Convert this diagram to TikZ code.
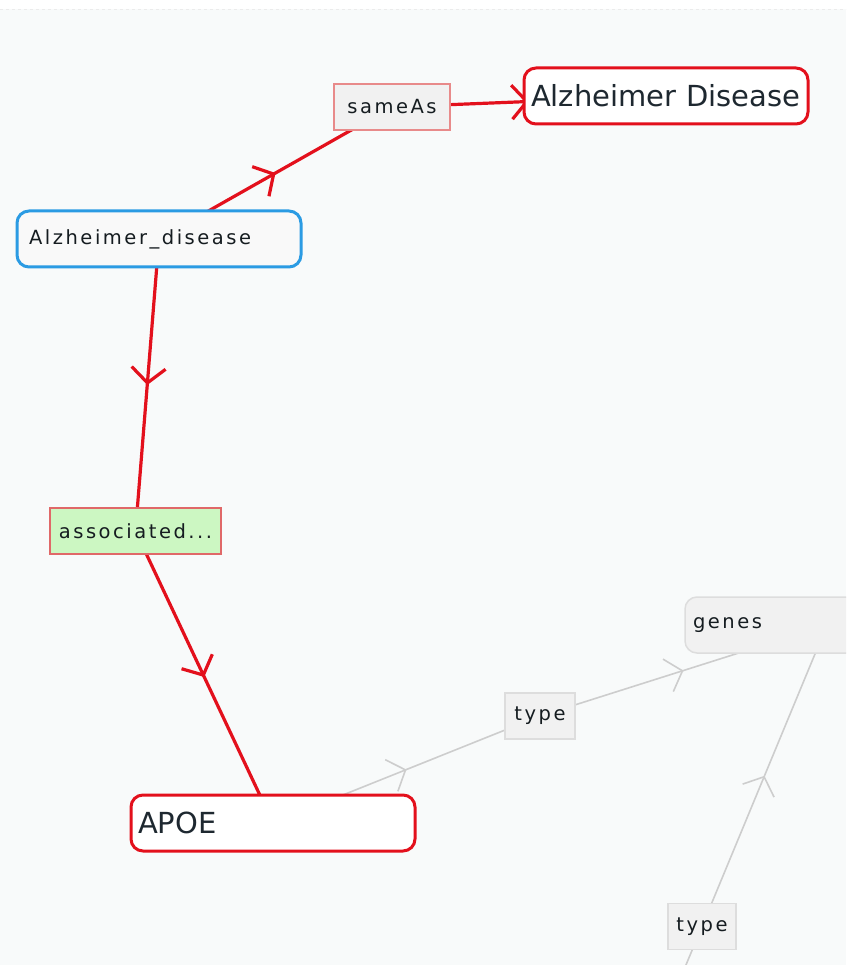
\documentclass[tikz,border=0pt]{standalone}
\usepackage{fontspec}
\newfontfamily\lblfont[LetterSpace=13]{DejaVu Sans}
\newfontfamily\bigfont{DejaVu Sans}
\usetikzlibrary{arrows.meta,decorations.markings}
\pgfdeclarelayer{bg}
\pgfdeclarelayer{edges}
\pgfsetlayers{bg,edges,main}
\definecolor{redE}{HTML}{E3101C}
\definecolor{blueB}{HTML}{2B9BE3}
\definecolor{pinkB}{HTML}{E88A8A}
\definecolor{assocB}{HTML}{E06868}
\definecolor{greenF}{HTML}{CCF7C2}
\definecolor{grayB}{HTML}{DDDDDD}
\definecolor{grayE}{HTML}{CDCDCD}
\definecolor{grayF}{HTML}{F1F1F1}
\definecolor{bgc}{HTML}{F8FAFA}
\definecolor{txt}{HTML}{1E2830}
\definecolor{lbltxt}{HTML}{151C20}
\definecolor{alzF}{HTML}{F9F9F9}
\begin{document}
\begin{tikzpicture}[x=1pt,y=-1pt,
  bigbox/.style={draw=redE, line width=3pt, rounded corners=12pt, fill=white,
    minimum width=284pt, minimum height=56pt, text width=270pt, align=left,
    inner xsep=7pt, inner ysep=0pt, font=\bigfont\fontsize{29}{34}\selectfont, text=txt},
  smallbox/.style={line width=3pt, rounded corners=12pt,
    minimum width=284pt, minimum height=56pt, text width=268pt, align=left,
    inner xsep=8pt, inner ysep=0pt, font=\lblfont\fontsize{19.5}{23}\selectfont, text=lbltxt},
  lblbox/.style={line width=2pt, minimum height=46pt, inner xsep=0pt, inner ysep=0pt,
    font=\lblfont\fontsize{19.5}{23}\selectfont, text=lbltxt},
  redarrow/.style={draw=redE, line width=3.2pt, postaction={decorate},
    decoration={markings, mark=at position 0.5 with {\arrow{Straight Barb[length=15pt,width=34pt]}}}},
  grayarrow/.style={draw=grayE, line width=1.6pt, postaction={decorate},
    decoration={markings, mark=at position 0.5 with {\arrow{Straight Barb[length=15pt,width=34pt]}}}},
  grayline/.style={draw=grayE, line width=1.6pt}
]
\useasboundingbox (0,0) rectangle (846,965);
\begin{pgfonlayer}{bg}
  \fill[white] (0,0) rectangle (846,965);
  \fill[bgc] (0,9) rectangle (846,965);
  \draw[grayB!60, line width=0.8pt, dash pattern=on 3pt off 3pt] (0,9) -- (846,9);
\end{pgfonlayer}
\begin{scope}
  \clip (0,0) rectangle (846,965);
  \node[bigbox] (ad) at (666,96) {Alzheimer Disease};
  \node[lblbox, draw=pinkB, fill=grayF, minimum width=116pt] (sameas) at (392,107) {sameAs};
  \node[smallbox, draw=blueB, fill=alzF, inner xsep=12pt, text width=260pt] (alzd) at (159,239) {Alzheimer\_disease};
  \node[lblbox, draw=assocB, fill=greenF, minimum width=171pt] (assoc) at (135.5,531) {associated...};
  \node[bigbox] (apoe) at (273,823) {APOE};
  \node[smallbox, draw=grayB, line width=1.5pt, fill=grayF] (genes) at (827,625) {genes};
  \node[lblbox, draw=grayB, line width=1.5pt, fill=grayF, minimum width=70pt] (type1) at (540,716) {type};
  \node[lblbox, draw=grayB, line width=1.5pt, fill=grayF, minimum width=68pt] (type2) at (702,926.5) {type};
  \coordinate (below) at (658,1032);
\end{scope}
\begin{pgfonlayer}{edges}
  \clip (0,0) rectangle (846,965);
  \path[redarrow] (alzd.center) -- (sameas.center);
  \path[redarrow] (sameas.center) -- (ad.center);
  \path[redarrow] (alzd.center) -- (assoc.center);
  \path[redarrow] (assoc.center) -- (apoe.center);
  \path[grayarrow] (apoe.center) -- (type1.center);
  \path[grayarrow] (type1.center) -- (genes.center);
  \path[grayarrow] (type2.center) -- (genes.center);
  \path[grayline] (below) -- (type2.center);
\end{pgfonlayer}
\end{tikzpicture}
\end{document}
